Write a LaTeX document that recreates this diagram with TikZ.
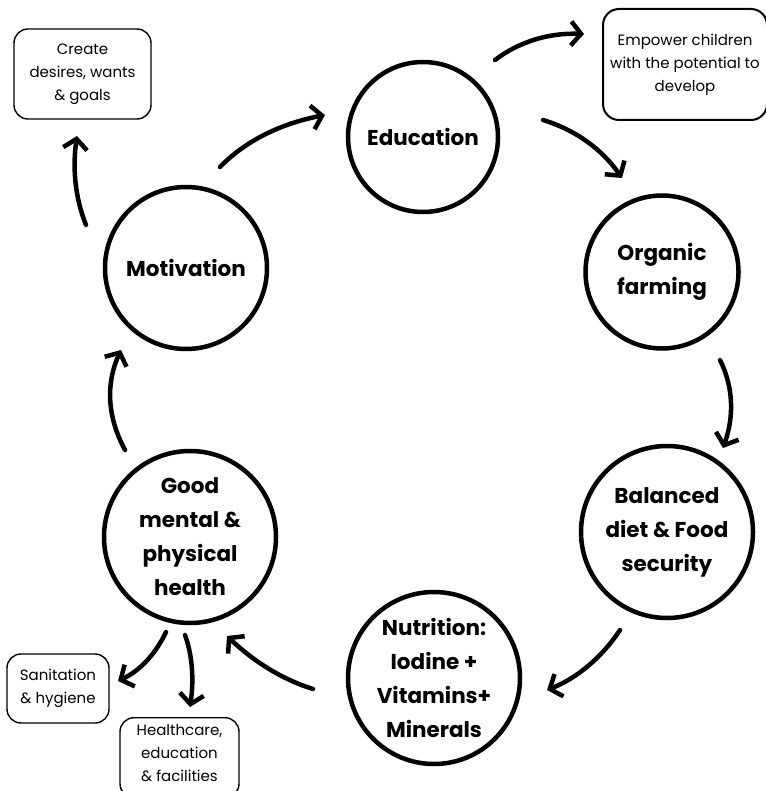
\documentclass[tikz,border=0pt]{standalone}
\usepackage{fontspec}
\setmainfont{Poppins}
\usetikzlibrary{arrows.meta}
\tikzset{
  bubble/.style={circle, draw, line width=4.5pt, minimum size=#1, inner sep=0pt, align=center,
    font=\fontsize{21.5}{34}\selectfont\bfseries},
  notefont/.style={font=\fontsize{15}{23}\selectfont},
  note/.style={draw, rounded corners=14pt, line width=1.4pt, align=center, inner sep=0pt, notefont},
  flow/.style={line width=4.5pt, line cap=round, -{Straight Barb[length=10pt,width=24pt,line width=4.5pt]}},
}
\begin{document}
\begin{tikzpicture}[x=1pt,y=-1pt]
\useasboundingbox[fill=white] (0,0) rectangle (765,791);
% circles
\node[bubble=150pt] (edu) at (423,137) {Education};
\node[bubble=153pt] (org) at (662,272) {Organic\\farming};
\node[bubble=172pt] (bal) at (667,532) {Balanced\\diet \& Food\\security};
\node[bubble=172pt] (nut) at (434,678) {Nutrition:\\Iodine +\\Vitamins+\\Minerals};
\node[bubble=172pt] (hea) at (190,537) {Good\\mental \&\\physical\\health};
\node[bubble=162pt] (mot) at (186,268) {Motivation};
% notes
\node[note, minimum width=137pt, minimum height=90pt] (cre) at (82.5,74) {Create\\desires, wants\\\& goals};
\node[note, line width=2pt, minimum width=164pt, minimum height=111pt, rounded corners=16pt] (emp) at (685,64.5) {Empower children\\with the potential to\\develop};
\node[note, minimum width=102pt, minimum height=69pt] (san) at (58,688.5) {Sanitation\\\& hygiene};
\node[note, minimum width=119pt, minimum height=80pt, anchor=north] (hc) at (179.5,717) {};
\node[notefont, align=center] (hct) at (179.5,753) {Healthcare,\\education\\\& facilities};
% connector ends
\coordinate (a1s) at (220,167); \coordinate (a1e) at (325,115);
\coordinate (a2s) at (495,60);  \coordinate (a2e) at (584,34);
\coordinate (a3s) at (543,120); \coordinate (a3e) at (622,178);
\coordinate (a4s) at (720,360); \coordinate (a4e) at (723,448);
\coordinate (a5s) at (620,630); \coordinate (a5e) at (547,690);
\coordinate (a6s) at (313,689); \coordinate (a6e) at (227,636);
\coordinate (a7s) at (125,450); \coordinate (a7e) at (121,350);
\coordinate (a8s) at (86,225);  \coordinate (a8e) at (77,136);
\coordinate (a9s) at (166,632); \coordinate (a9e) at (118,681);
\coordinate (a10s) at (185,635); \coordinate (a10e) at (190,707);
% connectors
\draw[flow] (a1s) .. controls (245.3,141) and (280.3,123.7) .. (a1e);
\draw[flow] (a2s) .. controls (519.7,41.3) and (549.3,32.7) .. (a2e);
\draw[flow] (a3s) .. controls (575.7,130) and (602,149.3) .. (a3e);
\draw[flow] (a4s) .. controls (733.3,386.7) and (734.3,416) .. (a4e);
\draw[flow] (a5s) .. controls (601.3,658) and (577,678) .. (a5e);
\draw[flow] (a6s) .. controls (283,679.7) and (254.3,662) .. (a6e);
\draw[flow] (a7s) .. controls (107,416.7) and (105.7,383.3) .. (a7e);
\draw[flow] (a8s) .. controls (75.3,198.3) and (72.3,168.7) .. (a8e);
\draw[flow] (a9s) .. controls (155.3,654.7) and (139.3,671) .. (a9e);
\draw[flow] (a10s) .. controls (192.3,655) and (194,679) .. (a10e);
\end{tikzpicture}
\end{document}
